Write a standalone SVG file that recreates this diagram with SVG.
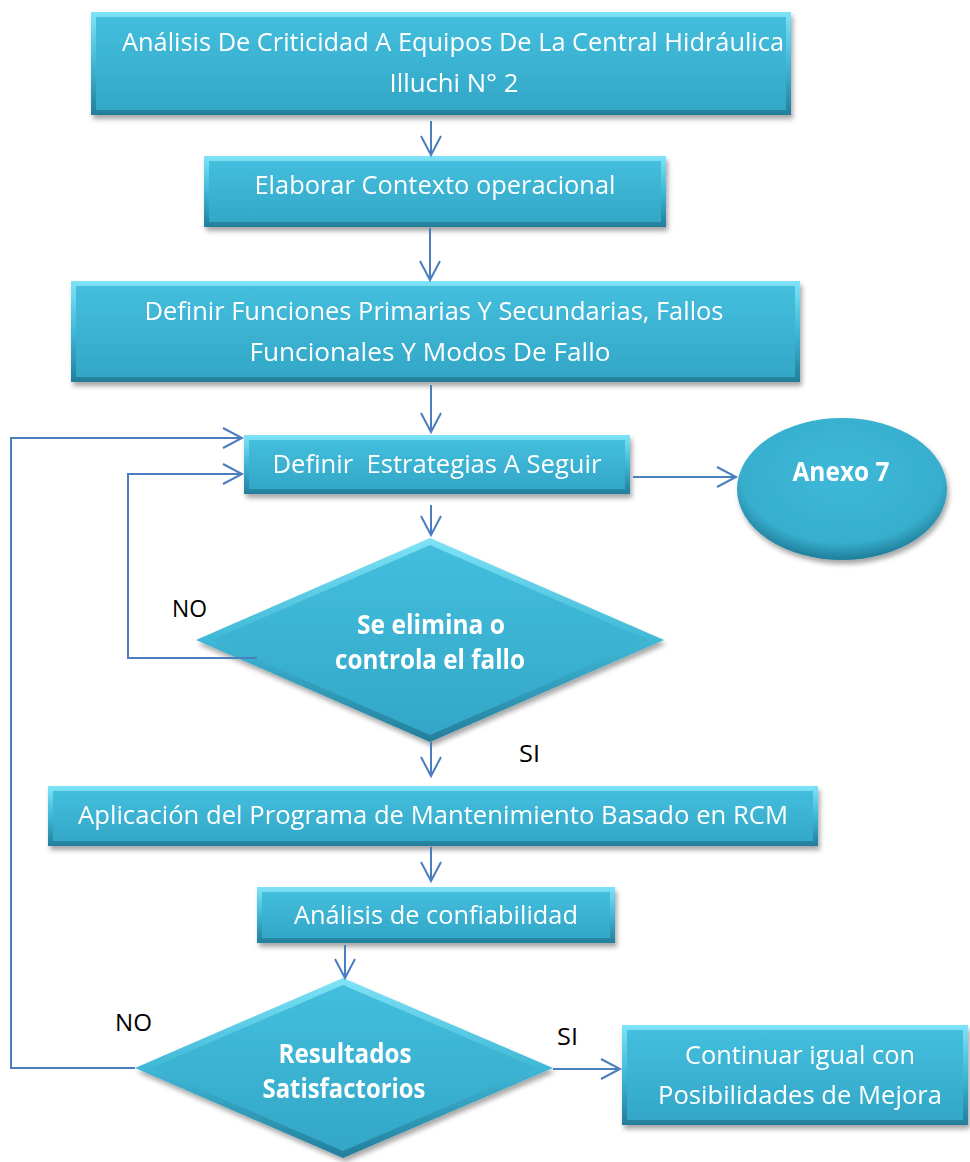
<svg xmlns="http://www.w3.org/2000/svg" width="970" height="1162" viewBox="0 0 970 1162">
  <style>
    .edge { fill: url(#edgeGrad); }
    .face { fill: url(#faceGrad); }
    .lbl { font-family: "Open Sans", "Liberation Sans", sans-serif; font-size: 26px; fill: #ffffff; text-anchor: middle; white-space: pre; }
    .bold { font-weight: bold; }
    .tag { font-family: "Open Sans", "Liberation Sans", sans-serif; font-size: 23px; fill: #000000; }
    .conn { fill: none; stroke: #4a7ebf; stroke-width: 2; }
    .shape { filter: url(#shadow); }
  </style>
  <defs>
    <linearGradient id="edgeGrad" x1="0" y1="0" x2="0" y2="1">
      <stop offset="0" stop-color="#7fe3f7"/>
      <stop offset="0.5" stop-color="#3fb8d6"/>
      <stop offset="1" stop-color="#237e9b"/>
    </linearGradient>
    <linearGradient id="faceGrad" x1="0" y1="0" x2="0" y2="1">
      <stop offset="0" stop-color="#44bedd"/>
      <stop offset="1" stop-color="#33a7c7"/>
    </linearGradient>
    <radialGradient id="ovalGrad" cx="0.5" cy="0.4" r="0.6">
      <stop offset="0" stop-color="#3fb9d9"/>
      <stop offset="0.8" stop-color="#37aecd"/>
      <stop offset="1" stop-color="#1f7d99"/>
    </radialGradient>
    <filter id="shadow" x="-10%" y="-10%" width="125%" height="130%">
      <feDropShadow dx="2" dy="4" stdDeviation="2.5" flood-color="#000000" flood-opacity="0.35"/>
    </filter>
    <marker id="arrow" markerUnits="userSpaceOnUse" markerWidth="24" markerHeight="24" refX="20" refY="11" orient="auto">
      <path d="M1,1 L20,11 L1,21" fill="none" stroke="#4a7ebf" stroke-width="2"/>
    </marker>
  </defs>

  <g id="n1" class="shape">
    <rect class="edge" x="91" y="12" width="700" height="103"/>
    <rect class="face" x="96" y="17" width="690" height="93"/>
    <text class="lbl" x="453" y="51" textLength="662" lengthAdjust="spacingAndGlyphs">Análisis De Criticidad A Equipos De La Central Hidráulica</text>
    <text class="lbl" x="454" y="92" textLength="129" lengthAdjust="spacingAndGlyphs">Illuchi N° 2</text>
  </g>

  <g id="n2" class="shape">
    <rect class="edge" x="204" y="156" width="462" height="71"/>
    <rect class="face" x="209" y="161" width="452" height="61"/>
    <text class="lbl" x="435" y="194" textLength="361" lengthAdjust="spacingAndGlyphs">Elaborar Contexto operacional</text>
  </g>

  <g id="n3" class="shape">
    <rect class="edge" x="71" y="281" width="729" height="101"/>
    <rect class="face" x="76" y="286" width="719" height="91"/>
    <text class="lbl" x="434" y="320" textLength="579" lengthAdjust="spacingAndGlyphs">Definir Funciones Primarias Y Secundarias, Fallos</text>
    <text class="lbl" x="430" y="361" textLength="361" lengthAdjust="spacingAndGlyphs">Funcionales Y Modos De Fallo</text>
  </g>

  <g id="n4" class="shape">
    <rect class="edge" x="244" y="435" width="386" height="59"/>
    <rect class="face" x="249" y="440" width="376" height="49"/>
    <text class="lbl" x="437" y="473" textLength="329" lengthAdjust="spacingAndGlyphs">Definir  Estrategias A Seguir</text>
  </g>

  <g id="n5" class="shape">
    <ellipse cx="842" cy="489" rx="105" ry="71" fill="url(#ovalGrad)"/>
    <text class="lbl bold" x="841" y="481" textLength="97" lengthAdjust="spacingAndGlyphs">Anexo 7</text>
  </g>

  <g id="n6" class="shape">
    <polygon class="edge" points="430,538 664,640 430,742 196,640"/>
    <polygon class="face" points="430,545 648,640 430,735 212,640"/>
    <text class="lbl bold" x="431" y="634" textLength="148" lengthAdjust="spacingAndGlyphs">Se elimina o</text>
    <text class="lbl bold" x="430" y="669" textLength="190" lengthAdjust="spacingAndGlyphs">controla el fallo</text>
  </g>

  <g id="n7" class="shape">
    <rect class="edge" x="48" y="786" width="770" height="60"/>
    <rect class="face" x="53" y="791" width="760" height="50"/>
    <text class="lbl" x="433" y="824" textLength="710" lengthAdjust="spacingAndGlyphs">Aplicación del Programa de Mantenimiento Basado en RCM</text>
  </g>

  <g id="n8" class="shape">
    <rect class="edge" x="257" y="887" width="358" height="56"/>
    <rect class="face" x="262" y="892" width="348" height="46"/>
    <text class="lbl" x="436" y="924" textLength="284" lengthAdjust="spacingAndGlyphs">Análisis de confiabilidad</text>
  </g>

  <g id="n9" class="shape">
    <polygon class="edge" points="343,978 553,1068 343,1158 135,1068"/>
    <polygon class="face" points="343,985 537,1068 343,1151 151,1068"/>
    <text class="lbl bold" x="345" y="1063" textLength="133" lengthAdjust="spacingAndGlyphs">Resultados</text>
    <text class="lbl bold" x="344" y="1098" textLength="163" lengthAdjust="spacingAndGlyphs">Satisfactorios</text>
  </g>

  <g id="n10" class="shape">
    <rect class="edge" x="622" y="1025" width="346" height="100"/>
    <rect class="face" x="627" y="1030" width="336" height="90"/>
    <text class="lbl" x="800" y="1064" textLength="230" lengthAdjust="spacingAndGlyphs">Continuar igual con</text>
    <text class="lbl" x="800" y="1104" textLength="284" lengthAdjust="spacingAndGlyphs">Posibilidades de Mejora</text>
  </g>

  <!-- connectors, drawn over the shapes -->
  <g id="connectors">
    <line class="conn" x1="431" y1="121" x2="431" y2="155" marker-end="url(#arrow)"/>
    <line class="conn" x1="430" y1="228" x2="430" y2="280" marker-end="url(#arrow)"/>
    <line class="conn" x1="431" y1="385" x2="431" y2="432" marker-end="url(#arrow)"/>
    <line class="conn" x1="633" y1="477" x2="736" y2="477" marker-end="url(#arrow)"/>
    <line class="conn" x1="431" y1="505" x2="431" y2="535" marker-end="url(#arrow)"/>
    <polyline class="conn" points="257,658 128,658 128,474 242,474" marker-end="url(#arrow)"/>
    <line class="conn" x1="431" y1="742" x2="431" y2="776" marker-end="url(#arrow)"/>
    <line class="conn" x1="431" y1="847" x2="431" y2="881" marker-end="url(#arrow)"/>
    <line class="conn" x1="345" y1="945" x2="345" y2="978" marker-end="url(#arrow)"/>
    <polyline class="conn" points="135,1068 11,1068 11,438 242,438" marker-end="url(#arrow)"/>
    <line class="conn" x1="553" y1="1069" x2="620" y2="1069" marker-end="url(#arrow)"/>
  </g>

  <!-- decision labels -->
  <g id="labels">
    <text class="tag" x="172" y="617" textLength="35" lengthAdjust="spacingAndGlyphs">NO</text>
    <text class="tag" x="519" y="762" textLength="21" lengthAdjust="spacingAndGlyphs">SI</text>
    <text class="tag" x="115" y="1031" textLength="37" lengthAdjust="spacingAndGlyphs">NO</text>
    <text class="tag" x="557" y="1045" textLength="21" lengthAdjust="spacingAndGlyphs">SI</text>
  </g>
</svg>
